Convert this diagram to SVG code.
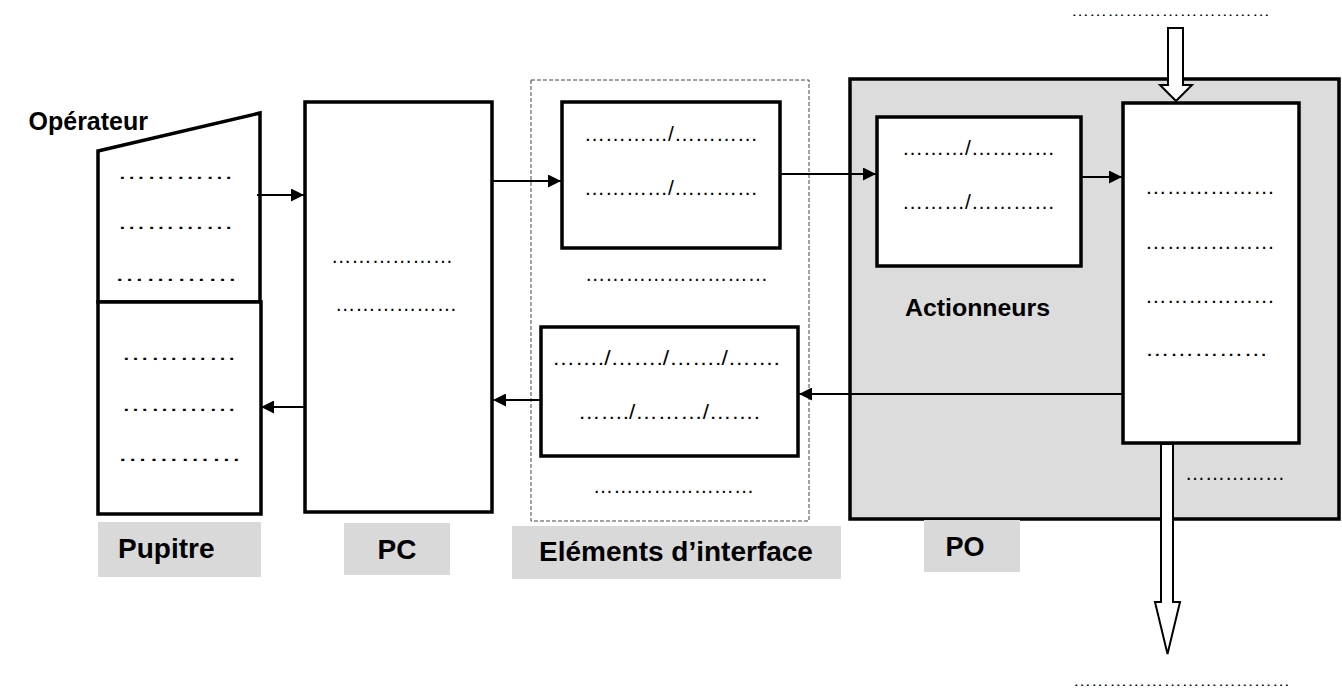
<svg xmlns="http://www.w3.org/2000/svg" width="1342" height="688" viewBox="0 0 1342 688">
<defs>
<style>
.box{fill:#fff;stroke:#000;stroke-width:3.5}
.lbl{fill:#d9d9d9;stroke:none}
.lt{font-family:"Liberation Sans",Arial,sans-serif;font-weight:bold;fill:#000}
.dots{font-family:"Liberation Sans",Arial,sans-serif;font-size:20px;fill:#000}
.sm{font-family:"Liberation Sans",Arial,sans-serif;font-size:14px;fill:#000}
.conn{fill:none;stroke:#000;stroke-width:2}
.hollow{fill:#fff;stroke:#000;stroke-width:2}
</style>
<marker id="ah" viewBox="0 0 13 13" refX="13" refY="6.5" markerWidth="13" markerHeight="13" orient="auto" markerUnits="userSpaceOnUse">
<path d="M0,0 L13,6.5 L0,13 z" fill="#000"/>
</marker>
</defs>
<rect width="1342" height="688" fill="#fff"/>

<g id="po">
<rect x="850" y="79" width="489" height="440" fill="#dcdcdc" stroke="#000" stroke-width="3.5"/>
<text class="dots" x="1185" y="480" textLength="100" lengthAdjust="spacingAndGlyphs">……………</text>
</g>

<g id="interface">
<rect x="531" y="80" width="278" height="441" fill="none" stroke="#444" stroke-width="1" stroke-dasharray="4,2"/>
<text class="dots" x="585" y="281" textLength="183" lengthAdjust="spacingAndGlyphs">………………………</text>
<text class="dots" x="593" y="493" textLength="161" lengthAdjust="spacingAndGlyphs">……………………</text>
</g>

<g id="operateur">
<text class="lt" x="148" y="130" font-size="25" text-anchor="end">Opérateur</text>
</g>

<g id="pupitre-haut">
<polygon class="box" points="98,151 260,113 260,302 98,302"/>
<text class="dots" x="117" y="179" textLength="117" lengthAdjust="spacingAndGlyphs">…………</text>
<text class="dots" x="117" y="229" textLength="117" lengthAdjust="spacingAndGlyphs">…………</text>
<text class="dots" x="114" y="281" textLength="124" lengthAdjust="spacingAndGlyphs">…………</text>
</g>

<g id="pupitre-bas">
<rect class="box" x="98" y="302" width="163" height="212"/>
<text class="dots" x="121" y="360" textLength="116" lengthAdjust="spacingAndGlyphs">…………</text>
<text class="dots" x="121" y="411" textLength="116" lengthAdjust="spacingAndGlyphs">…………</text>
<text class="dots" x="117" y="461" textLength="125" lengthAdjust="spacingAndGlyphs">…………</text>
</g>

<g id="pc">
<rect class="box" x="305" y="102" width="187" height="410"/>
<text class="dots" x="331" y="263" textLength="122" lengthAdjust="spacingAndGlyphs">………………</text>
<text class="dots" x="335" y="311" textLength="122" lengthAdjust="spacingAndGlyphs">………………</text>
</g>

<g id="box1">
<rect class="box" x="562" y="102" width="218" height="146"/>
<text class="dots" x="584" y="141" textLength="174" lengthAdjust="spacingAndGlyphs">…………/…………</text>
<text class="dots" x="584" y="195" textLength="174" lengthAdjust="spacingAndGlyphs">…………/…………</text>
</g>

<g id="box2">
<rect class="box" x="541" y="327" width="257" height="129"/>
<text class="dots" x="552" y="365" textLength="228" lengthAdjust="spacingAndGlyphs">……./……./……./…….</text>
<text class="dots" x="578" y="419" textLength="182" lengthAdjust="spacingAndGlyphs">……./………/…….</text>
</g>

<g id="actionneurs">
<rect class="box" x="877" y="117" width="204" height="149"/>
<text class="dots" x="902" y="155" textLength="153" lengthAdjust="spacingAndGlyphs">………/…………</text>
<text class="dots" x="902" y="209" textLength="153" lengthAdjust="spacingAndGlyphs">………/…………</text>
<text class="lt" x="905" y="316" font-size="23" textLength="145" lengthAdjust="spacingAndGlyphs">Actionneurs</text>
</g>

<g id="partie-operative">
<rect class="box" x="1123" y="103" width="176" height="340"/>
<text class="dots" x="1145" y="194" textLength="130" lengthAdjust="spacingAndGlyphs">………………</text>
<text class="dots" x="1145" y="249" textLength="130" lengthAdjust="spacingAndGlyphs">………………</text>
<text class="dots" x="1145" y="303" textLength="130" lengthAdjust="spacingAndGlyphs">………………</text>
<text class="dots" x="1145" y="356" textLength="123" lengthAdjust="spacingAndGlyphs">……………</text>
</g>

<g id="entree">
<text class="sm" x="1071" y="16" textLength="199" lengthAdjust="spacingAndGlyphs">……………………………</text>
</g>

<g id="sortie">
<text class="sm" x="1073" y="686" textLength="217" lengthAdjust="spacingAndGlyphs">………………………………</text>
</g>

<g id="labels">
<rect class="lbl" x="98" y="522" width="163" height="55"/>
<text class="lt" x="118" y="558" font-size="28">Pupitre</text>
<rect class="lbl" x="344" y="523" width="106" height="52"/>
<text class="lt" x="397" y="559" font-size="28" text-anchor="middle">PC</text>
<rect class="lbl" x="512" y="526" width="329" height="53"/>
<text class="lt" x="676" y="561" font-size="28" text-anchor="middle">Eléments d’interface</text>
<rect class="lbl" x="924" y="520" width="96" height="52"/>
<text class="lt" x="965" y="556" font-size="27" text-anchor="middle">PO</text>
</g>

<g id="connectors">
<path class="conn" d="M257,195 H304" marker-end="url(#ah)"/>
<path class="conn" d="M304,407 H261" marker-end="url(#ah)"/>
<path class="conn" d="M492,181 H561" marker-end="url(#ah)"/>
<path class="conn" d="M780,174 H876" marker-end="url(#ah)"/>
<path class="conn" d="M1081,177 H1122" marker-end="url(#ah)"/>
<path class="conn" d="M1123,394 H799" marker-end="url(#ah)"/>
<path class="conn" d="M541,400 H493" marker-end="url(#ah)"/>
<polygon class="hollow" points="1168,28 1183,28 1183,85 1192,85 1176,101 1160,85 1168,85"/>
<polygon class="hollow" stroke-width="1.5" points="1161,444 1173,444 1173,602 1180,602 1167.5,654 1155,602 1161,602"/>
</g>
</svg>
